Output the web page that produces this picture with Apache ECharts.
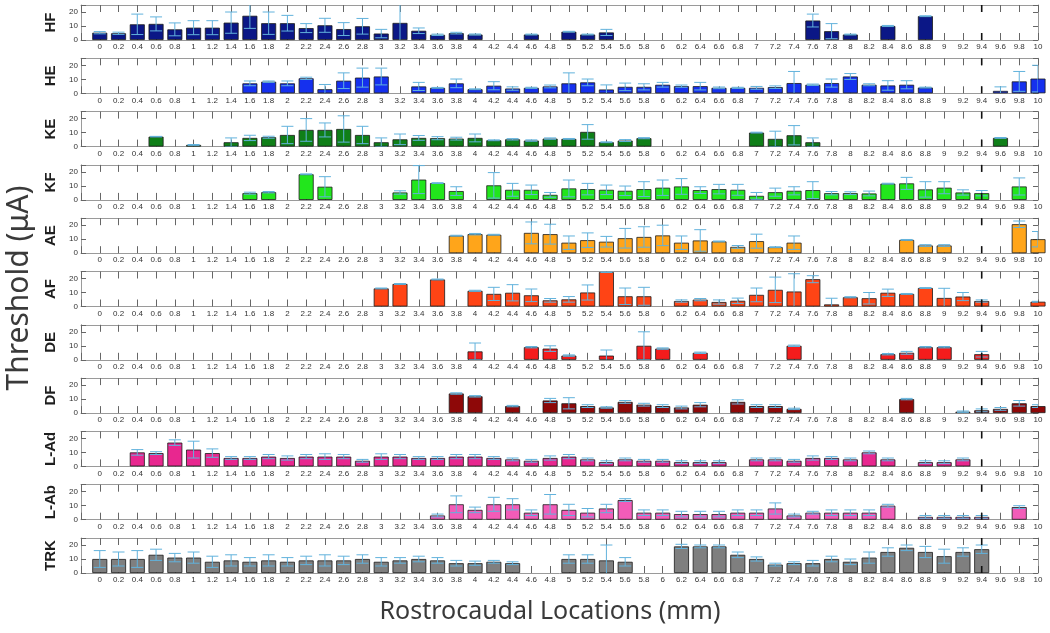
<!DOCTYPE html>
<html><head><meta charset="utf-8">
<script src="https://cdn.jsdelivr.net/npm/echarts@6/dist/echarts.min.js"></script>
<style>html,body{margin:0;padding:0;background:#fff}#c{width:1050px;height:633px}</style>
</head><body><div id="c"></div><script>
const _ = null;
const locations = [0,0.2,0.4,0.6,0.8,1,1.2,1.4,1.6,1.8,2,2.2,2.4,2.6,2.8,3,3.2,3.4,3.6,3.8,4,4.2,4.4,4.6,4.8,5,5.2,5.4,5.6,5.8,6,6.2,6.4,6.6,6.8,7,7.2,7.4,7.6,7.8,8,8.2,8.4,8.6,8.8,9,9.2,9.4,9.6,9.8,10];
const panelNames = ['HF','HE','KE','KF','AE','AF','DE','DF','L-Ad','L-Ab','TRK'];
const panelColors = ['#0b1786','#1530ee','#0f7f18','#22e61c','#ffa51a','#ff4415','#f41c1c','#8e0808','#e8278f','#f25cb8','#7f7f7f'];
const yTicks = [0,10,20];

const hfValues = [5.2,4.8,11.2,11.5,7.6,8.8,8.8,12.4,17.3,12, 12,8.5,10.5,7.8,9.8,4.6,12.2,6.6,3.7,4.9, 3.9,_,_,3.9,_,5.9,3.9,5.4,_,_, _,_,_,_,_,_,_,_,13.9,6.3, 3.9,_,10,_,17,_,_,_,_,_, _];
const hfErrors = [0.8,0.8,7.3,5,4.6,5,5,7.6,9,8, 5.6,3.2,5,4.6,5.6,3,13,2,0.5,0.6, 0.4,_,_,0.3,_,0.3,0.3,2.2,_,_, _,_,_,_,_,_,_,_,4.6,5.4, 0.3,_,0.4,_,0.3,_,_,_,_,_, _];
const heValues = [_,_,_,_,_,_,_,_,7.1,8.3, 7.1,10.7,2.9,9,11.2,12,_,4.9,3.9,7.1, 2.9,5.4,3.4,3.9,4.9,7.1,7.8,2.7,4.6,4.6, 6.1,5.1,5.1,3.9,3.9,3.9,4.4,7.3,6.1,7.3, 12,6.1,5.6,6.1,4.1,_,_,_,1.7,8.5, 10.5];
const heErrors = [_,_,_,_,_,_,_,_,1.7,0.5, 1.7,0.8,3.4,5.6,6.8,6,_,2.9,0.3,3.1, 0.3,2.9,1.2,0.4,1,7.5,2.4,3.3,2.7,2.2, 1.7,0.8,2.7,0.6,0.4,1,0.9,8.3,0.5,2.9, 2.1,0.7,3.4,2.9,0.3,_,_,_,2.9,7.1, 9.5];
const keValues = [_,_,_,7.1,_,1.2,_,3.1,6.2,6.7, 8.3,11.9,11.9,12.6,8.3,3.1,5.2,6.2,6,5.7, 6.2,4.5,5.2,4.3,5.7,5.5,10.5,3.1,4.3,6, _,_,_,_,_,10,5.5,8.1,3.1,_, _,_,_,_,_,_,_,_,6.2,_, _];
const keErrors = [_,_,_,0.2,_,0.3,_,3.1,1.9,0.7, 6.2,8.1,5,9.4,6.2,3.1,3.8,1.7,1.1,1, 2.8,0.3,0.5,0.5,0.5,0.3,5.2,0.3,0.7,0.4, _,_,_,_,_,0.3,5.5,6.9,3.1,_, _,_,_,_,_,_,_,_,0.3,_, _];
const kfValues = [_,_,_,_,_,_,_,_,4.8,5.5, _,18.3,9.4,_,_,_,5.3,14.5,12,6.3, _,10.4,7.2,7.2,3.6,8.2,7.7,7.2,6.5,7.7, 8.7,9.6,7,7.7,7.2,2.9,5.5,6.5,7,4.8, 4.8,4.6,11.6,11.8,7.5,8.7,5.3,4.8,_,9.6, _];
const kfErrors = [_,_,_,_,_,_,_,_,0.7,0.5, _,0.3,7.2,_,_,_,1.2,10,0.3,3.1, _,9.1,4.6,3.4,1.7,6,4.1,3.4,3.4,5.3, 5.5,5.6,2.4,3.4,3.9,2.4,2.9,2.9,6,1.2, 1,1.7,0.3,4.3,5.5,4.3,1.9,1.9,_,6.1, _];
const aeValues = [_,_,_,_,_,_,_,_,_,_, _,_,_,_,_,_,_,_,_,12.5, 13.6,13.2,_,14.5,13.6,7.5,9.3,8.2,10.7,11.6, 12.7,7.5,9.1,8.4,4.5,8.6,4.3,7.5,_,_, _,_,_,9.5,5.5,5.5,_,_,_,20.7, 10];
const aeErrors = [_,_,_,_,_,_,_,_,_,_, _,_,_,_,_,_,_,_,_,0.3, 0.5,0.3,_,7.8,7.1,4.8,5.2,3.8,7,7.3, 7.3,4.8,7.7,0.3,1,5,0.3,4.8,_,_, _,_,_,0.3,0.6,0.6,_,_,_,2.3, 5.5];
const afValues = [_,_,_,_,_,_,_,_,_,_, _,_,_,_,_,12.9,16.1,_,19.3,_, 11.2,9,9.8,8,4.4,5.1,10,24.6,7.3,7.3, _,3.9,4.9,3.2,4.1,8.3,11.9,10.7,19.5,1.5, 6.6,5.9,9.8,9,13.2,6.1,7.1,3.9,_,_, 3.4];
const afErrors = [_,_,_,_,_,_,_,_,_,_, _,_,_,_,_,0.3,0.3,_,0.3,_, 0.4,4.7,5.8,4.5,1.3,2,5.4,0.3,5.9,6.4, _,0.8,0.8,1.5,1.9,4.9,9.1,12.7,2.5,4.4, 0.4,4.1,2.6,0.3,0.3,6.9,2.9,0.8,_,_, 0.3];
const deValues = [_,_,_,_,_,_,_,_,_,_, _,_,_,_,_,_,_,_,_,_, 6,_,_,9,8,3,_,3,_,10, 8,_,5,_,_,_,_,10,_,_, _,_,4,5,9,9,_,4,_,_, _];
const deErrors = [_,_,_,_,_,_,_,_,_,_, _,_,_,_,_,_,_,_,_,_, 6,_,_,0.5,2,0.5,_,4,_,10, 0.5,_,0.5,_,_,_,_,0.5,_,_, _,_,0.5,1,0.5,0.5,_,2,_,_, _];
const dfValues = [_,_,_,_,_,_,_,_,_,_, _,_,_,_,_,_,_,_,_,14, 12,_,5,_,9,7,5,4,8,6, 5,4,6,_,8,5,5,3,_,_, _,_,_,10,_,_,1,2,3,7, 5];
const dfErrors = [_,_,_,_,_,_,_,_,_,_, _,_,_,_,_,_,_,_,_,0.5, 0.5,_,0.5,_,1.5,4,1,0.5,1,1, 1,1,1.5,_,1.5,1,1,0.5,_,_, _,_,_,0.5,_,_,0.5,1,1,2, 1];
const lAdValues = [_,_,10,9.5,17,12,9.5,6,6,7, 6,7,7,7,4,7,7,6,6,7, 7,6,5,4,6,7,5,3,5,4, 4,3,3,3,_,5,5,4,6,6, 5,10,5,_,3,3,5,_,_,_, _];
const lAdErrors = [_,_,2,1,2,6,3,1,1,1.5, 1.5,1.5,2,1.5,1,2,1.5,1,1,1.5, 1.5,1,1,1,1.5,1.5,1,1,1,1, 1,1,1,1,_,1,1,1,1.5,1, 1,1,1,_,1,1,1,_,_,_, _];
const lAbValues = [_,_,_,_,_,_,_,_,_,_, _,_,_,_,_,_,_,_,3,11, 7,11,11,5,11,7,5,8,14,5, 5,4,4,4,5,5,8,3,5,5, 5,5,10,_,2,2,2,2,_,9, _];
const lAbErrors = [_,_,_,_,_,_,_,_,_,_, _,_,_,_,_,_,_,_,1,6, 2,5,4,2,7,4,3,3,1,2, 2,2,2,2,2,2,4,1,1,2, 2,2,1,_,1,1,1,1,_,1, _];
const trkValues = [10,10,10,13,11,11,8,9,8,9, 8,9,9,9,10,8,9,10,9,7, 7,8,7,_,_,10,10,9,8,_, _,19,19,19,13,10,6,7,7,10, 8,11,15,18,15,12,15,17,_,_, _];
const trkErrors = [6,5,6,4,3,4,4,4,3,4, 3,3,4,3,3,3,2,2,2,2, 1.5,1,1,_,_,3,3,11,3,_, _,1.5,1,1,2,1.5,1,1,2,2, 2,4,3,2,4,5,3,3,_,_, _];

const panelValues = [hfValues,heValues,keValues,kfValues,aeValues,afValues,deValues,dfValues,lAdValues,lAbValues,trkValues];
const panelErrors = [hfErrors,heErrors,keErrors,kfErrors,aeErrors,afErrors,deErrors,dfErrors,lAdErrors,lAbErrors,trkErrors];

const YMAX = 25, XMIN = -0.2, XMAX = 10;
const ERR = '#62b2dc';
const FONT = '"Liberation Sans", Arial, sans-serif';

function errItem(params, api){
  const x = api.value(0), y = api.value(1), e = api.value(2);
  const hi = Math.min(y + e, YMAX), lo = Math.max(y - e, 0);
  const pH = api.coord([x, hi]), pL = api.coord([x, lo]);
  const cw = 6;
  const st = {stroke: ERR, lineWidth: 1};
  const ch = [{type:'line', shape:{x1:pH[0], y1:pH[1], x2:pL[0], y2:pL[1]}, style: st}];
  if (y + e <= YMAX) ch.push({type:'line', shape:{x1:pH[0]-cw, y1:pH[1], x2:pH[0]+cw, y2:pH[1]}, style: st});
  if (y - e >= 0) ch.push({type:'line', shape:{x1:pL[0]-cw, y1:pL[1], x2:pL[0]+cw, y2:pL[1]}, style: st});
  return {type:'group', children: ch};
}
function darkTick(params, api){
  const x = api.value(0);
  const pb = api.coord([x, 0]), pt = api.coord([x, YMAX]);
  const st = {stroke:'#111', lineWidth:1.6};
  return {type:'group', children:[
    {type:'line', shape:{x1:pb[0], y1:pb[1], x2:pb[0], y2:pb[1]-7}, style: st},
    {type:'line', shape:{x1:pt[0], y1:pt[1], x2:pt[0], y2:pt[1]+7}, style: st}
  ]};
}

const grids = [], xAxes = [], yAxes = [], series = [];
panelNames.forEach((name, i) => {
  grids.push({left: 81, right: 12, top: 5 + 53.3 * i, height: 35});
  const xBase = {gridIndex: i, type: 'value', min: XMIN, max: XMAX, interval: 0.2,
    axisLine: {onZero: false, lineStyle: {color: '#9a9a9a', width: 1}},
    axisTick: {inside: true, length: 7, lineStyle: {color: '#666'}},
    splitLine: {show: false}};
  xAxes.push(Object.assign({}, xBase, {position: 'bottom',
    axisLabel: {fontSize: 8, color: '#333', margin: 3, fontFamily: FONT,
      formatter: v => v < -0.01 ? '' : String(Math.round(v * 10) / 10)}}));
  xAxes.push(Object.assign({}, xBase, {position: 'top', axisLabel: {show: false}}));
  const yBase = {gridIndex: i, type: 'value', min: 0, max: YMAX, interval: 10,
    axisLine: {show: true, onZero: false, lineStyle: {color: '#9a9a9a', width: 1}},
    axisTick: {show: true, inside: true, length: 5, lineStyle: {color: '#666'}},
    splitLine: {show: false}};
  yAxes.push(Object.assign({}, yBase, {position: 'left', name: name, nameLocation: 'middle',
    nameGap: 15, nameRotate: 90,
    nameTextStyle: {fontSize: 15, fontWeight: 'bold', color: '#1e1e1e', fontFamily: FONT},
    axisLabel: {fontSize: 8, color: '#333', margin: 3, fontFamily: FONT,
      formatter: v => yTicks.indexOf(v) >= 0 ? String(v) : ''}}));
  yAxes.push(Object.assign({}, yBase, {position: 'right', axisLabel: {show: false}}));

  const vals = panelValues[i], errs = panelErrors[i];
  const barData = [], errData = [];
  locations.forEach((loc, k) => {
    if (vals[k] != null) {
      barData.push([loc, vals[k]]);
      if (errs[k] != null) errData.push([loc, vals[k], errs[k]]);
    }
  });
  series.push({type: 'bar', name: name, xAxisIndex: 2 * i, yAxisIndex: 2 * i, data: barData,
    barWidth: 15, clip: true, silent: true,
    itemStyle: {color: panelColors[i], borderColor: '#1a1a1a', borderWidth: 0.8}});
  series.push({type: 'custom', xAxisIndex: 2 * i, yAxisIndex: 2 * i, data: errData,
    renderItem: errItem, clip: true, silent: true, z: 3});
  series.push({type: 'custom', xAxisIndex: 2 * i, yAxisIndex: 2 * i, data: [[9.4]],
    renderItem: darkTick, silent: true, z: 4});
});

const chart = echarts.init(document.getElementById('c'), null, {renderer: 'canvas'});
chart.setOption({
  animation: false,
  backgroundColor: '#fff',
  grid: grids, xAxis: xAxes, yAxis: yAxes, series: series,
  graphic: [
    {type: 'text', x: 19, y: 288, rotation: Math.PI / 2,
      style: {text: 'Threshold (μA)', font: '30px "Noto Sans", sans-serif', fill: '#3a3a3a',
        textAlign: 'center', textVerticalAlign: 'middle', align: 'center', verticalAlign: 'middle'}},
    {type: 'text', x: 550, y: 612,
      style: {text: 'Rostrocaudal Locations (mm)', font: '25px "Noto Sans", sans-serif', fill: '#3a3a3a',
        textAlign: 'center', textVerticalAlign: 'middle', align: 'center', verticalAlign: 'middle'}}
  ]
});
</script></body></html>
